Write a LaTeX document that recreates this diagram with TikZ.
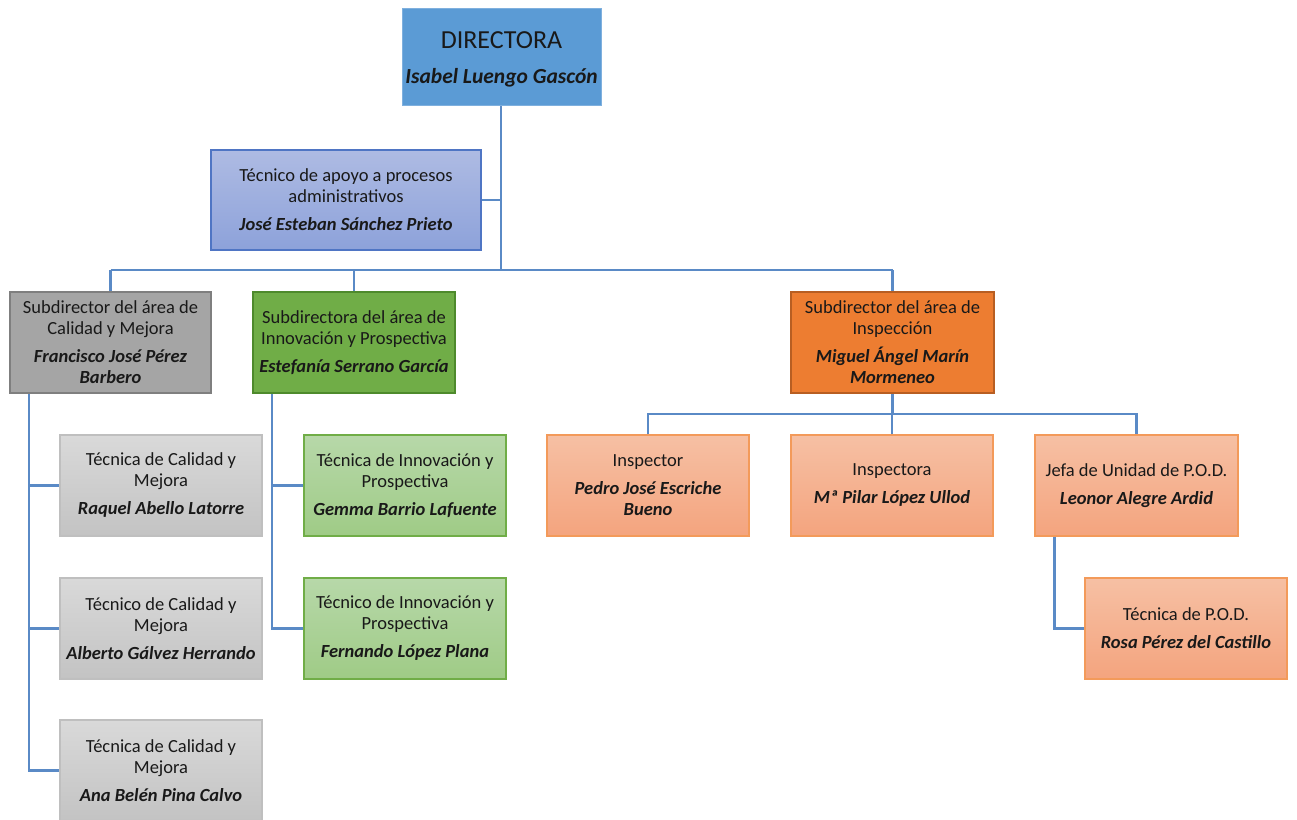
\documentclass[tikz,border=0pt]{standalone}
\usepackage{fontspec}
\setmainfont{Carlito}
\usetikzlibrary{calc}
\definecolor{lineblue}{HTML}{5A8AC6}
\definecolor{dirfill}{HTML}{5B9BD5}
\definecolor{dirborder}{HTML}{7FB0DE}
\definecolor{lavtop}{HTML}{AEBBE3}
\definecolor{lavbot}{HTML}{8DA2DA}
\definecolor{lavborder}{HTML}{4F75C4}
\definecolor{gsubfill}{HTML}{A5A5A5}
\definecolor{gsubborder}{HTML}{7F7F7F}
\definecolor{grsubfill}{HTML}{70AD47}
\definecolor{grsubborder}{HTML}{4E8A2C}
\definecolor{osubfill}{HTML}{ED7D31}
\definecolor{osubborder}{HTML}{B85E22}
\definecolor{gtop}{HTML}{D9D9D9}
\definecolor{gbot}{HTML}{C3C3C3}
\definecolor{gborder}{HTML}{BFBFBF}
\definecolor{grtop}{HTML}{B7D8A9}
\definecolor{grbot}{HTML}{9FCB86}
\definecolor{grborder}{HTML}{70AD47}
\definecolor{otop}{HTML}{F6C0A4}
\definecolor{obot}{HTML}{F4A47E}
\definecolor{oborder}{HTML}{F39A5A}
\tikzset{
  box/.style={rectangle, align=center, inner sep=0pt, font=\fontsize{18.5}{21}\selectfont, text=black!90},
  kid/.style={box, minimum width=202pt, minimum height=101pt},
  dirbox/.style={box, fill=dirfill, draw=dirborder, line width=1pt, minimum width=199pt, minimum height=97pt},
  lavbox/.style={box, top color=lavtop, bottom color=lavbot, draw=lavborder, line width=1.2pt, minimum width=270pt, minimum height=100pt},
  gsub/.style={kid, fill=gsubfill, draw=gsubborder, line width=2pt},
  grsub/.style={kid, fill=grsubfill, draw=grsubborder, line width=2pt},
  osub/.style={kid, fill=osubfill, draw=osubborder, line width=2pt},
  gkid/.style={kid, top color=gtop, bottom color=gbot, draw=gborder, line width=1.5pt},
  grkid/.style={kid, top color=grtop, bottom color=grbot, draw=grborder, line width=1.5pt},
  okid/.style={kid, top color=otop, bottom color=obot, draw=oborder, line width=1.5pt},
  conn/.style={draw=lineblue, line width=2.6pt},
}
\newcommand{\nm}[1]{\textbf{\textit{#1}}}
\begin{document}
\begin{tikzpicture}[x=1pt,y=-1pt]
\useasboundingbox (0,0) rectangle (1297,819);
\begin{scope}
\clip (0,0) rectangle (1297,819);
% connectors first
\coordinate (bus) at (501,270);
\coordinate (dirfoot) at (501,105);
\draw[conn] (dirfoot) -- (bus);
\draw[conn] (481,200) -- (501,200);
\draw[conn] (110.5,270) -- (892.5,270);
\draw[conn] (110.5,270) -- (110.5,292);
\draw[conn] (354,270) -- (354,292);
\draw[conn] (892.5,270) -- (892.5,292);
% nodes
\node[dirbox] (dir) at (501.5,56.5) {};
\node[box] (dirtext) at (501.5,59) {{\fontsize{26}{30}\selectfont DIRECTORA}\\[14pt]{\fontsize{21.5}{24}\selectfont\nm{Isabel Luengo Gascón}}};
\node[lavbox] (apoyo) at (346,200) {Técnico de apoyo a procesos\\administrativos\\[7pt]\nm{José Esteban Sánchez Prieto}};
\node[gsub, minimum width=201pt] (gs) at (110.5,342.5) {Subdirector del área de\\Calidad y Mejora\\[7pt]\nm{Francisco José Pérez}\\\nm{Barbero}};
\node[grsub] (grs) at (354,342.5) {Subdirectora del área de\\Innovación y Prospectiva\\[7pt]\nm{Estefanía Serrano García}};
\node[osub, minimum width=203pt] (os) at (892.5,342.5) {Subdirector del área de\\Inspección\\[7pt]\nm{Miguel Ángel Marín}\\\nm{Mormeneo}};
\node[gkid] (gk1) at (161,485.5) {Técnica de Calidad y\\Mejora\\[7pt]\nm{Raquel Abello Latorre}};
\node[gkid] (gk2) at (161,628.5) {Técnico de Calidad y\\Mejora\\[7pt]\nm{Alberto Gálvez Herrando}};
\node[gkid] (gk3) at (161,770.5) {Técnica de Calidad y\\Mejora\\[7pt]\nm{Ana Belén Pina Calvo}};
\node[grkid] (grk1) at (405,485.5) {Técnica de Innovación y\\Prospectiva\\[7pt]\nm{Gemma Barrio Lafuente}};
\node[grkid] (grk2) at (405,628.5) {Técnico de Innovación y\\Prospectiva\\[7pt]\nm{Fernando López Plana}};
\node[okid] (ok1) at (648,485.5) {Inspector\\[7pt]\nm{Pedro José Escriche}\\\nm{Bueno}};
\node[okid] (ok2) at (892,485.5) {Inspectora\\[7pt]\nm{Mª Pilar López Ullod}};
\node[okid, minimum width=203pt] (ok3) at (1136.5,485.5) {Jefa de Unidad de P.O.D.\\[7pt]\nm{Leonor Alegre Ardid}};
\node[okid] (pod) at (1186,628.5) {Técnica de P.O.D.\\[7pt]\nm{Rosa Pérez del Castillo}};
% subordinate connectors
\draw[conn] ([xshift=20pt]gs.south west) |- (gk1.west);
\draw[conn] ([xshift=20pt]gs.south west) |- (gk2.west);
\draw[conn] ([xshift=20pt]gs.south west) |- (gk3.west);
\draw[conn] ([xshift=20pt]grs.south west) |- (grk1.west);
\draw[conn] ([xshift=20pt]grs.south west) |- (grk2.west);
\coordinate (obus) at ($(os.south)+(0,20)$);
\draw[conn] (os.south) -- (obus);
\draw[conn] (ok1.north) -- (ok1.north |- obus) -- (ok3.north |- obus) -- (ok3.north);
\draw[conn] (ok2.north) -- (ok2.north |- obus);
\draw[conn] ([xshift=20pt]ok3.south west) |- (pod.west);
\end{scope}
\end{tikzpicture}
\end{document}
